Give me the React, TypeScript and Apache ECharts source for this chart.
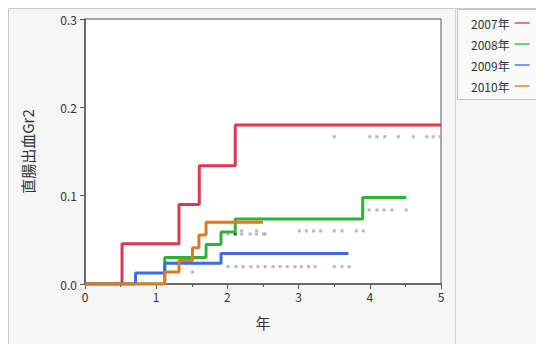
import React, { useEffect, useRef } from "react";
import * as echarts from "echarts";

const seriesNames = ["2007年", "2008年", "2009年", "2010年"];
const lineColors = ["#dc3a52", "#2fb236", "#3a6de0", "#e07a1c"];
const legendColors = ["#e8788a", "#6fcf72", "#7a9cec", "#eca35e"];

// Step curves (time in years, cumulative rate)
const t2007 = [0, 0.52, 1.32, 1.605, 2.11, 5.0];
const v2007 = [0, 0.0455, 0.09, 0.134, 0.18, 0.18];
const t2008 = [0, 1.12, 1.7, 1.91, 2.11, 3.9, 4.51];
const v2008 = [0, 0.03, 0.0448, 0.059, 0.0735, 0.098, 0.098];
const t2009 = [0, 0.71, 1.12, 1.91, 3.7];
const v2009 = [0, 0.0125, 0.0235, 0.0345, 0.0345];
const t2010 = [0, 1.12, 1.32, 1.51, 1.6, 1.7, 2.5];
const v2010 = [0, 0.0135, 0.0265, 0.041, 0.0555, 0.0698, 0.0698];

// Censor marks (gray dots)
const censorX = [
  3.5, 4.0, 4.1, 4.21, 4.4, 4.61, 4.8, 4.89, 4.99,
  3.01, 3.11, 3.21, 3.31, 3.5, 3.61, 3.81, 3.91,
  2.01, 2.2, 2.32, 2.41, 2.51, 2.53, 2.2, 2.41,
  3.99, 4.1, 4.2, 4.31, 4.51,
  2.01, 2.12, 2.22, 2.33, 2.43, 2.53, 2.64, 2.74, 2.84, 2.95, 3.04, 3.14, 3.23, 3.5, 3.61, 3.71,
  1.51,
];
const censorY = [
  0.1667, 0.1667, 0.1667, 0.1667, 0.1667, 0.1667, 0.1667, 0.1667, 0.1667,
  0.06, 0.06, 0.06, 0.06, 0.06, 0.06, 0.06, 0.06,
  0.0566, 0.0566, 0.0566, 0.0566, 0.0566, 0.0566, 0.0602, 0.0602,
  0.0838, 0.0838, 0.0838, 0.0838, 0.0838,
  0.0196, 0.0196, 0.0196, 0.0196, 0.0196, 0.0196, 0.0196, 0.0196, 0.0196, 0.0196, 0.0196, 0.0196, 0.0196, 0.0196, 0.0196, 0.0196,
  0.0136,
];
const blackX = [2.11];
const blackY = [0.0566];

const xTicks = [0, 1, 2, 3, 4, 5];
const yTicks = [0, 0.1, 0.2, 0.3];

const zip = (a: number[], b: number[]) => a.map((x, i) => [x, b[i]]);

export default function App() {
  const ref = useRef<HTMLDivElement>(null);
  useEffect(() => {
    if (!ref.current) return;
    const chart = echarts.init(ref.current, undefined, { renderer: "svg" });
    const font = "'Noto Sans CJK JP', 'Noto Sans', sans-serif";
    const curves = [zip(t2007, v2007), zip(t2008, v2008), zip(t2009, v2009), zip(t2010, v2010)];
    chart.setOption({
      animation: false,
      backgroundColor: "#ffffff",
      textStyle: { fontFamily: font },
      graphic: [
        {
          type: "rect",
          z: -10,
          shape: { x: 8.5, y: 8.5, width: 540, height: 350 },
          style: { fill: "#f6f6f6", stroke: "#c9c9c9", lineWidth: 1 },
          silent: true,
        },
        {
          type: "rect",
          z: -9,
          shape: { x: 457.5, y: 9.5, width: 90, height: 90 },
          style: { fill: "#fafafa", stroke: "#c4c4c4", lineWidth: 1 },
          silent: true,
        },
        {
          type: "line",
          z: -9,
          shape: { x1: 455.5, y1: 9, x2: 455.5, y2: 344 },
          style: { stroke: "#d4d4d4", lineWidth: 1 },
          silent: true,
        },
      ],
      grid: {
        left: 85,
        top: 19,
        right: 95,
        bottom: 60,
        show: true,
        backgroundColor: "#ffffff",
        borderColor: "#555555",
        borderWidth: 1,
      },
      legend: {
        orient: "vertical",
        left: 466,
        top: 11,
        align: "right",
        icon: "rect",
        itemWidth: 15,
        itemHeight: 2,
        itemGap: 7,
        textStyle: { fontSize: 12, color: "#333", fontFamily: font, lineHeight: 14, padding: [0, 0, 0, 0] },
        data: seriesNames.map((n, i) => ({ name: n, itemStyle: { color: legendColors[i] } })),
      },
      xAxis: {
        type: "value",
        min: xTicks[0],
        max: xTicks[xTicks.length - 1],
        interval: 1,
        name: "年",
        nameLocation: "middle",
        nameGap: 31,
        nameTextStyle: { fontSize: 15, color: "#333", fontFamily: font },
        axisLine: { show: true, onZero: false, lineStyle: { color: "#555", width: 1.5 } },
        axisTick: { show: true, length: 5, lineStyle: { color: "#555" } },
        minorTick: { show: true, splitNumber: 2, length: 3, lineStyle: { color: "#555" } },
        splitLine: { show: false },
        axisLabel: { fontSize: 12, color: "#333", margin: 6, fontFamily: font },
      },
      yAxis: {
        type: "value",
        min: yTicks[0],
        max: yTicks[yTicks.length - 1],
        interval: 0.1,
        name: "直腸出血Gr2",
        nameLocation: "middle",
        nameGap: 50,
        nameTextStyle: { fontSize: 15, color: "#333", fontFamily: font },
        axisLine: { show: true, onZero: false, lineStyle: { color: "#555", width: 1.5 } },
        axisTick: { show: true, length: 5, lineStyle: { color: "#555" } },
        splitLine: { show: false },
        axisLabel: {
          fontSize: 12,
          color: "#333",
          margin: 8,
          fontFamily: font,
          formatter: (v: number) => v.toFixed(1),
        },
      },
      series: [
        {
          type: "scatter",
          name: "censor",
          data: zip(censorX, censorY),
          symbol: "rect",
          symbolSize: [3, 3],
          itemStyle: { color: "#a8a8a8" },
          z: 1,
        },
        {
          type: "scatter",
          name: "mark",
          data: zip(blackX, blackY),
          symbol: "rect",
          symbolSize: [3, 3],
          itemStyle: { color: "#111" },
          z: 1,
        },
        ...seriesNames.map((n, i) => ({
          type: "line",
          name: n,
          data: curves[i],
          step: "end",
          showSymbol: false,
          symbol: "none",
          lineStyle: { color: lineColors[i], width: 3 },
          itemStyle: { color: lineColors[i] },
          z: 2 + i,
        })),
      ],
    });
    return () => chart.dispose();
  }, []);
  return <div ref={ref} style={{ width: 536, height: 344, position: "absolute", left: 0, top: 0 }} />;
}
